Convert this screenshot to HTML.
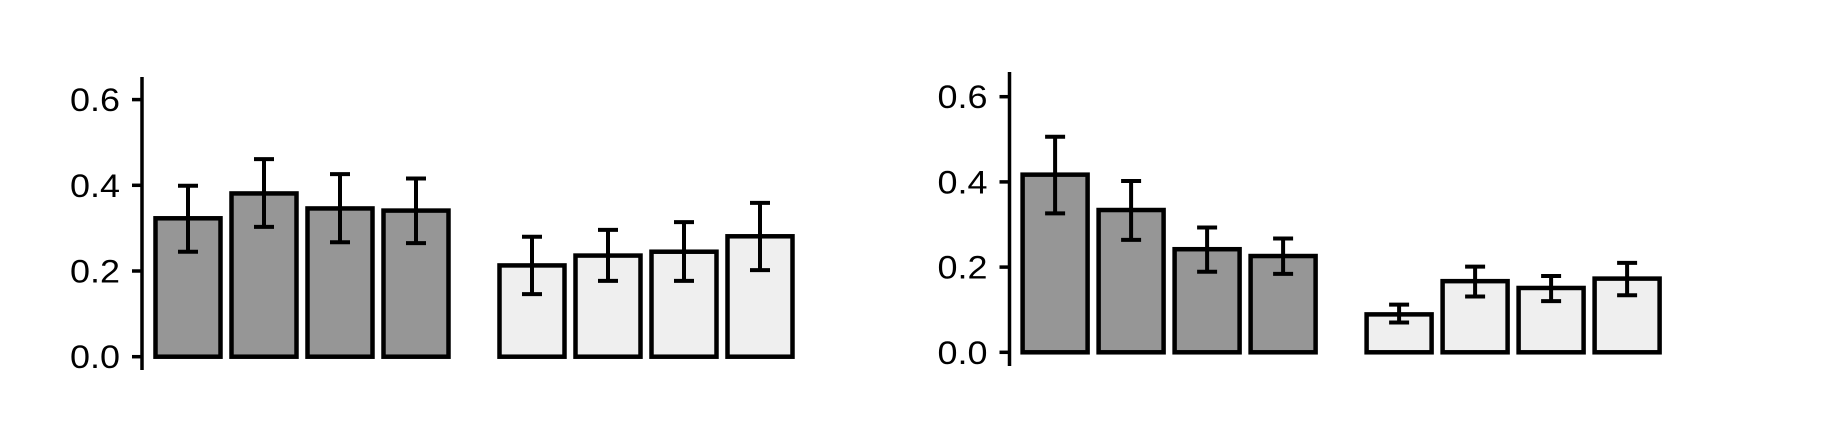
<!DOCTYPE html>
<html><head><meta charset="utf-8"><style>
html,body{margin:0;padding:0;background:#fff;}
svg{display:block;}
text{font-family:"Liberation Sans",sans-serif;font-size:32px;fill:#000;}
</style></head><body>
<svg id="chart" width="1828" height="424" viewBox="0 0 1828 424" xmlns="http://www.w3.org/2000/svg"></svg>
<script>
const tickValues = [0.0, 0.2, 0.4, 0.6];
const tickLabels = ["0.0", "0.2", "0.4", "0.6"];
const groupColors = ["#969696", "#efefef"];
const leftValues = [0.323, 0.381, 0.346, 0.341, 0.213, 0.236, 0.245, 0.281];
const leftUpper = [0.399, 0.461, 0.426, 0.416, 0.280, 0.296, 0.314, 0.359];
const leftLower = [0.245, 0.303, 0.267, 0.265, 0.146, 0.177, 0.177, 0.202];
const rightValues = [0.417, 0.334, 0.242, 0.226, 0.089, 0.167, 0.151, 0.173];
const rightUpper = [0.506, 0.402, 0.293, 0.267, 0.112, 0.201, 0.179, 0.210];
const rightLower = [0.326, 0.264, 0.189, 0.184, 0.070, 0.131, 0.120, 0.134];

const NS = "http://www.w3.org/2000/svg";
const svg = document.getElementById("chart");
function mk(tag, attrs, parent) {
  const e = document.createElementNS(NS, tag);
  for (const k in attrs) e.setAttribute(k, attrs[k]);
  parent.appendChild(e);
  return e;
}
function panel(name, axisX, y0, pxPerUnit, axisTop, axisBottom, x0, values, upper, lower) {
  const g = mk("g", {}, svg);
  
  
  const y = v => y0 - v * pxPerUnit;
  const step = 76, gap = 40, w = 65;
  const xOf = i => x0 + 2 + i * step + (i >= 4 ? gap : 0);
  values.forEach((v, i) => {
    const r = mk("rect", {x: xOf(i), y: y(v), width: w, height: y0 - y(v),
      fill: groupColors[i < 4 ? 0 : 1], stroke: "#000", "stroke-width": 4.5}, g);
    
    
  });
  values.forEach((v, i) => {
    const cx = xOf(i) + w / 2;
    const eg = mk("g", {stroke: "#000", "stroke-width": 4}, g);
    
    
    mk("line", {x1: cx, x2: cx, y1: y(upper[i]), y2: y(lower[i])}, eg);
    mk("line", {x1: cx - 10, x2: cx + 10, y1: y(upper[i]), y2: y(upper[i])}, eg);
    mk("line", {x1: cx - 10, x2: cx + 10, y1: y(lower[i]), y2: y(lower[i])}, eg);
  });
  const ax = mk("g", {}, g);
  
  
  mk("line", {x1: axisX, x2: axisX, y1: axisTop, y2: axisBottom, stroke: "#000", "stroke-width": 3.5}, ax);
  tickValues.forEach((t, i) => {
    mk("line", {x1: axisX - 10, x2: axisX, y1: y(t), y2: y(t), stroke: "#000", "stroke-width": 3.5}, ax);
    const tx = mk("text", {x: axisX - 72, y: y(t) + 11.5, textLength: 50, lengthAdjust: "spacingAndGlyphs"}, ax);
    
    
    tx.textContent = tickLabels[i];
  });
}
panel("left-panel", 142, 356.7, 428.5, 77, 370, 153.5, leftValues, leftUpper, leftLower);
panel("right-panel", 1009.5, 352.3, 426, 72, 366, 1020.6, rightValues, rightUpper, rightLower);
</script>
</body></html>
